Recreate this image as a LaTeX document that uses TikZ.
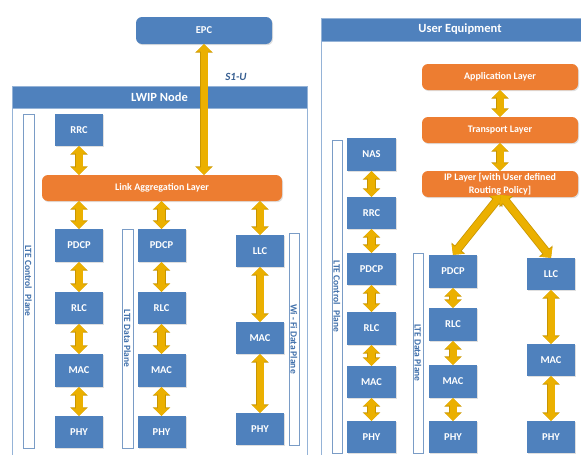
\documentclass[tikz,border=0pt]{standalone}
\usepackage{fontspec}
\setmainfont{Carlito}
\usetikzlibrary{arrows.meta,shadows}
\definecolor{boxblue}{HTML}{4F81BD}
\definecolor{boxorange}{HTML}{ED7D31}
\definecolor{arrgold}{HTML}{EBB000}
\definecolor{arrdark}{HTML}{C99600}
\definecolor{framecol}{HTML}{95B3D7}
\definecolor{planecol}{HTML}{7A9CC6}
\definecolor{planetext}{HTML}{3F6FAA}
\tikzset{
  bluebox/.style={fill=boxblue, draw=none, text=white, font=\fontsize{10.5}{12}\selectfont\bfseries,
    minimum width=48pt, minimum height=32pt, inner sep=0pt,
    drop shadow={opacity=0.25, shadow xshift=1pt, shadow yshift=-1.2pt}},
  orangebox/.style={fill=boxorange, draw=none, text=white, font=\fontsize{10}{13}\selectfont\bfseries,
    rounded corners=6pt, minimum height=26pt, inner sep=0pt, align=center,
    drop shadow={opacity=0.25, shadow xshift=1pt, shadow yshift=-1.2pt}},
  header/.style={fill=boxblue, draw=framecol, line width=0.6pt, text=white,
    font=\fontsize{12.5}{14}\selectfont\bfseries, inner sep=0pt},
  frameline/.style={draw=framecol, line width=0.8pt},
  planebox/.style={fill=white, draw=planecol, line width=0.7pt, text=planetext, rotate=-90,
    font=\fontsize{9.5}{11}\selectfont\bfseries, inner sep=0pt},
  dbl/.style={draw=arrgold, line width=7pt,
    {Triangle[width=15pt,length=7.5pt]}-{Triangle[width=15pt,length=7.5pt]},
    preaction={draw=arrdark, line width=8.6pt,
      {Triangle[width=17pt,length=8.5pt]}-{Triangle[width=17pt,length=8.5pt]}}},
}
\begin{document}
\begin{tikzpicture}[x=1pt,y=-1pt]
\useasboundingbox[fill=white] (0,0) rectangle (581,455);

% ---------- LWIP node ----------
\draw[frameline] (12,108) -- (12,470);
\draw[frameline] (307,108) -- (307,470);
\node[header, minimum width=295pt, minimum height=22pt] (lwiph) at (159.5,97) {LWIP Node};

\node[fill=boxblue, text=white, rounded corners=6pt, minimum width=136pt, minimum height=27pt,
  font=\fontsize{10.5}{12}\selectfont\bfseries, inner sep=0pt,
  drop shadow={opacity=0.25, shadow xshift=1pt, shadow yshift=-1.2pt}] (epc) at (204,30.5) {EPC};
\node[text=planetext!85!black, font=\fontsize{11}{12}\selectfont\bfseries\itshape] (s1u) at (236,77) {S1-U};

\node[planebox, minimum width=334pt, minimum height=11pt] (lcp) at (28.5,281) {LTE Control\hspace{0.35em} Plane};
\node[planebox, minimum width=219pt, minimum height=11pt] (ldp) at (127.5,338.5) {LTE Data Plane};
\node[planebox, minimum width=212pt, minimum height=10pt] (wdp) at (294,339) {Wi - Fi Data Plane};

\node[bluebox] (lrrc) at (79,130) {RRC};
\node[orangebox, minimum width=240pt] (lal) at (162,188) {Link Aggregation Layer};

\node[bluebox, minimum height=33pt] (lpdcp1) at (79,245.5) {PDCP};
\node[bluebox] (lrlc1) at (79,308) {RLC};
\node[bluebox, minimum height=33pt] (lmac1) at (79,370.5) {MAC};
\node[bluebox] (lphy1) at (79,432) {PHY};

\node[bluebox, minimum height=33pt] (lpdcp2) at (161.5,245.5) {PDCP};
\node[bluebox] (lrlc2) at (161.5,308) {RLC};
\node[bluebox, minimum height=33pt] (lmac2) at (161.5,370.5) {MAC};
\node[bluebox] (lphy2) at (161.5,432) {PHY};

\node[bluebox] (lllc) at (260,251) {LLC};
\node[bluebox] (lmac3) at (260,338) {MAC};
\node[bluebox] (lphy3) at (260,429) {PHY};

\draw[dbl] (epc.south) -- (epc.south |- lal.north);
\draw[dbl] (lrrc.south) -- (lrrc.south |- lal.north);
\draw[dbl] (lpdcp1.north |- lal.south) -- (lpdcp1.north);
\draw[dbl] (lpdcp2.north |- lal.south) -- (lpdcp2.north);
\draw[dbl] (lllc.north |- lal.south) -- (lllc.north);
\draw[dbl] (lpdcp1) -- (lrlc1);
\draw[dbl] (lrlc1) -- (lmac1);
\draw[dbl] (lmac1) -- (lphy1);
\draw[dbl] (lpdcp2) -- (lrlc2);
\draw[dbl] (lrlc2) -- (lmac2);
\draw[dbl] (lmac2) -- (lphy2);
\draw[dbl] (lllc) -- (lmac3);
\draw[dbl] (lmac3) -- (lphy3);

% ---------- User Equipment ----------
\draw[frameline] (321,41) -- (321,470);
\node[header, minimum width=278pt, minimum height=23pt] (ueh) at (460,29.5) {User Equipment};

\node[orangebox, minimum width=156pt] (app) at (500,77) {Application Layer};
\node[orangebox, minimum width=156pt] (trans) at (500,130) {Transport Layer};
\node[orangebox, minimum width=156pt] (ip) at (500,184) {IP Layer [with User defined\\Routing Policy]};

\node[planebox, minimum width=313pt, minimum height=10pt] (ucp) at (337,296.5) {LTE Control\hspace{0.35em} Plane};
\node[planebox, minimum width=200pt, minimum height=10pt] (udp) at (418,353) {LTE Data Plane};

\node[bluebox, minimum width=49pt, minimum height=33pt] (unas) at (371.5,154.5) {NAS};
\node[bluebox, minimum width=49pt] (urrc) at (371.5,213) {RRC};
\node[bluebox, minimum width=49pt] (updcp1) at (371.5,269) {PDCP};
\node[bluebox, minimum width=49pt, minimum height=33pt] (urlc1) at (371.5,328.5) {RLC};
\node[bluebox, minimum width=49pt] (umac1) at (371.5,382) {MAC};
\node[bluebox, minimum width=49pt] (uphy1) at (371.5,437) {PHY};

\node[bluebox, minimum height=33pt] (updcp2) at (453,271.5) {PDCP};
\node[bluebox, minimum height=33pt] (urlc2) at (453,324.5) {RLC};
\node[bluebox, minimum height=33pt] (umac2) at (453,381.5) {MAC};
\node[bluebox] (uphy2) at (453,437) {PHY};

\node[bluebox] (ullc) at (551,274) {LLC};
\node[bluebox] (umac3) at (551,360) {MAC};
\node[bluebox] (uphy3) at (551,437) {PHY};

\coordinate (ipb) at (501,195);
\draw[dbl] (app) -- (trans);
\draw[dbl] (trans) -- (ip);
\draw[dbl] (ipb) -- (updcp2.north);
\draw[dbl] (ipb) -- (ullc.north);
\draw[dbl] (unas) -- (urrc);
\draw[dbl] (urrc) -- (updcp1);
\draw[dbl] (updcp1) -- (urlc1);
\draw[dbl] (urlc1) -- (umac1);
\draw[dbl] (umac1) -- (uphy1);
\draw[dbl] (updcp2) -- (urlc2);
\draw[dbl] (urlc2) -- (umac2);
\draw[dbl] (umac2) -- (uphy2);
\draw[dbl] (ullc) -- (umac3);
\draw[dbl] (umac3) -- (uphy3);
\end{tikzpicture}
\end{document}
